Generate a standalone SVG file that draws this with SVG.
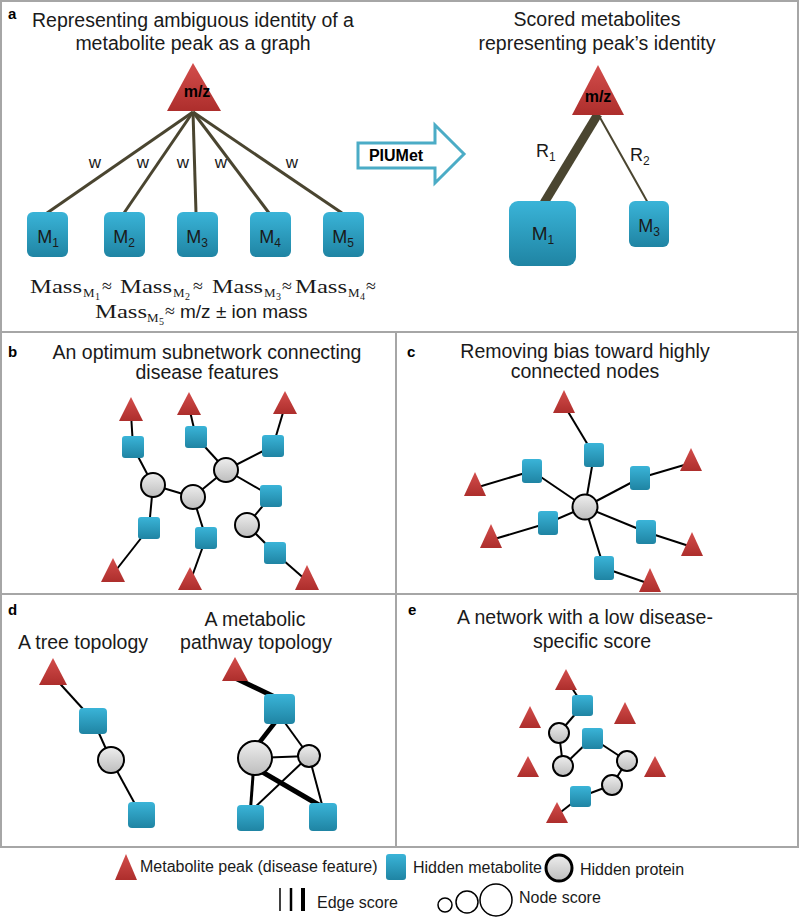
<svg xmlns="http://www.w3.org/2000/svg" width="800" height="918" viewBox="0 0 800 918">
<defs>
<linearGradient id="gTri" x1="0" y1="0" x2="0" y2="1"><stop offset="0" stop-color="#d34d4b"/><stop offset="1" stop-color="#ad2e2c"/></linearGradient>
<linearGradient id="gSq" x1="0" y1="0" x2="0" y2="1"><stop offset="0" stop-color="#3ab4d8"/><stop offset="1" stop-color="#1f84a3"/></linearGradient>
<linearGradient id="gCi" x1="0" y1="0" x2="0" y2="1"><stop offset="0" stop-color="#eeeeee"/><stop offset="1" stop-color="#bdbdbd"/></linearGradient>
</defs>
<style>
text{font-family:"Liberation Sans",Arial,sans-serif;fill:#1a1a1a}
.t{font-size:19.5px;text-anchor:middle}
.lab{font-size:15px;font-weight:bold;fill:#000}
.bold{font-weight:bold;fill:#000;font-size:16px;text-anchor:middle}
.tri{fill:url(#gTri)}
.sq{fill:url(#gSq)}
.ci{fill:url(#gCi);stroke:#000;stroke-width:2}
.e{stroke:#000;stroke-width:2;fill:none}
.ol{stroke:#4a4530;fill:none}
.mt{font-size:18px;text-anchor:middle}
.ser{font-family:"Liberation Serif","DejaVu Serif",serif;font-size:18px}
.s1{font-family:"Liberation Serif","DejaVu Serif",serif;font-size:13px}
.s2{font-family:"Liberation Serif","DejaVu Serif",serif;font-size:10px}
.border{stroke:#a6a6a6;stroke-width:2;fill:none}
.leg{font-size:16px}
.w{font-size:17px;text-anchor:middle}
</style>

<g id="frame">
<rect class="border" x="1" y="1" width="797" height="846"/>
<line class="border" x1="1" y1="332" x2="798" y2="332"/>
<line class="border" x1="1" y1="594" x2="798" y2="594"/>
<line class="border" x1="396" y1="332" x2="396" y2="847"/>
</g>

<g id="labels">
<text class="lab" x="8" y="19">a</text>
<text class="lab" x="8" y="357">b</text>
<text class="lab" x="407" y="357">c</text>
<text class="lab" x="8" y="615">d</text>
<text class="lab" x="408" y="615">e</text>
<text class="t" x="193" y="27">Representing ambiguous identity of a</text>
<text class="t" x="193" y="50">metabolite peak as a graph</text>
<text class="t" x="597" y="26">Scored metabolites</text>
<text class="t" x="597" y="50">representing peak’s identity</text>
<text class="t" x="207" y="359">An optimum subnetwork connecting</text>
<text class="t" x="207" y="379">disease features</text>
<text class="t" x="585" y="358">Removing bias toward highly</text>
<text class="t" x="585" y="378">connected nodes</text>
<text class="t" x="83" y="649">A tree topology</text>
<text class="t" x="255" y="626">A metabolic</text>
<text class="t" x="256" y="649">pathway topology</text>
<text class="t" x="585" y="624">A network with a low disease-</text>
<text class="t" x="592" y="648">specific score</text>
</g>

<!-- connectors -->
<g id="connectors">
<g class="ol" stroke-width="3">
<line x1="193" y1="112" x2="47" y2="213"/>
<line x1="193" y1="112" x2="124" y2="213"/>
<line x1="193" y1="112" x2="196" y2="213"/>
<line x1="193" y1="112" x2="269" y2="213"/>
<line x1="193" y1="112" x2="342" y2="213"/>
</g>
<line class="ol" stroke-width="9" x1="598" y1="114" x2="544" y2="203"/>
<line class="ol" stroke-width="2" x1="598" y1="114" x2="648" y2="203"/>
<!-- b -->
<g class="e">
<line x1="131" y1="413" x2="133" y2="447"/>
<line x1="133" y1="447" x2="153" y2="485"/>
<line x1="189" y1="407" x2="196" y2="437"/>
<line x1="196" y1="437" x2="226" y2="470"/>
<line x1="285" y1="406" x2="273" y2="446"/>
<line x1="273" y1="446" x2="226" y2="470"/>
<line x1="226" y1="470" x2="271" y2="496"/>
<line x1="226" y1="470" x2="193" y2="497"/>
<line x1="153" y1="485" x2="193" y2="497"/>
<line x1="153" y1="485" x2="149" y2="528"/>
<line x1="149" y1="528" x2="113" y2="574"/>
<line x1="193" y1="497" x2="206" y2="538"/>
<line x1="206" y1="538" x2="190" y2="582"/>
<line x1="271" y1="496" x2="247" y2="525"/>
<line x1="247" y1="525" x2="275" y2="553"/>
<line x1="275" y1="553" x2="307" y2="581"/>
</g>
<!-- c -->
<g class="e">
<line x1="585" y1="507" x2="594" y2="455"/>
<line x1="585" y1="507" x2="532" y2="471"/>
<line x1="585" y1="507" x2="640" y2="478"/>
<line x1="585" y1="507" x2="548" y2="523"/>
<line x1="585" y1="507" x2="646" y2="532"/>
<line x1="585" y1="507" x2="604" y2="568"/>
<line x1="594" y1="455" x2="564" y2="405"/>
<line x1="532" y1="471" x2="475" y2="488"/>
<line x1="640" y1="478" x2="691" y2="463"/>
<line x1="548" y1="523" x2="491" y2="540"/>
<line x1="646" y1="532" x2="692" y2="547"/>
<line x1="604" y1="568" x2="650" y2="584"/>
</g>
<!-- d -->
<g class="e">
<line x1="53" y1="676" x2="93" y2="720"/>
<line x1="93" y1="720" x2="111" y2="760"/>
<line x1="111" y1="760" x2="141" y2="815"/>
</g>
<g stroke="#000" fill="none">
<line stroke-width="5" x1="233" y1="677" x2="281" y2="700"/>
<line stroke-width="4.5" x1="280" y1="716" x2="255" y2="748"/>
<line stroke-width="2" x1="280" y1="716" x2="309" y2="756"/>
<line stroke-width="2" x1="255" y1="758" x2="309" y2="756"/>
<line stroke-width="3" x1="254" y1="762" x2="250" y2="816"/>
<line stroke-width="5" x1="252" y1="766" x2="324" y2="808"/>
<line stroke-width="2" x1="309" y1="756" x2="250" y2="812"/>
<line stroke-width="2" x1="309" y1="756" x2="324" y2="812"/>
</g>
<!-- e -->
<g class="e">
<line x1="570" y1="685" x2="583" y2="705"/>
<line x1="583" y1="705" x2="559" y2="733"/>
<line x1="559" y1="733" x2="563" y2="766"/>
<line x1="563" y1="766" x2="592" y2="738"/>
<line x1="592" y1="738" x2="627" y2="761"/>
<line x1="627" y1="761" x2="612" y2="785"/>
<line x1="612" y1="785" x2="580" y2="797"/>
<line x1="580" y1="797" x2="557" y2="815"/>
</g>
</g>

<!-- panel a nodes -->
<g id="a-mz">
<polygon class="tri" points="193,63 167,111 221,111"/>
<text class="bold" x="197" y="97">m/z</text>
</g>
<g id="a-w">
<text class="w" x="95" y="168">w</text>
<text class="w" x="143" y="168">w</text>
<text class="w" x="183" y="168">w</text>
<text class="w" x="221" y="168">w</text>
<text class="w" x="292" y="168">w</text>
</g>
<g id="a-M1"><rect class="sq" x="27" y="212" width="41" height="45" rx="6"/><text class="mt" x="48" y="243">M<tspan font-size="12" dy="4">1</tspan></text></g>
<g id="a-M2"><rect class="sq" x="104" y="212" width="41" height="45" rx="6"/><text class="mt" x="124" y="243">M<tspan font-size="12" dy="4">2</tspan></text></g>
<g id="a-M3"><rect class="sq" x="177" y="212" width="41" height="45" rx="6"/><text class="mt" x="197" y="243">M<tspan font-size="12" dy="4">3</tspan></text></g>
<g id="a-M4"><rect class="sq" x="250" y="212" width="41" height="45" rx="6"/><text class="mt" x="270" y="243">M<tspan font-size="12" dy="4">4</tspan></text></g>
<g id="a-M5"><rect class="sq" x="323" y="212" width="41" height="45" rx="6"/><text class="mt" x="343" y="243">M<tspan font-size="12" dy="4">5</tspan></text></g>

<g id="a-mass">
<text class="ser" x="30" y="293" textLength="52" lengthAdjust="spacingAndGlyphs">Mass</text>
<text class="s1" x="83" y="297">M</text><text class="s2" x="95" y="300">1</text>
<text class="ser" x="102" y="292">≈</text>
<text class="ser" x="120" y="293" textLength="52" lengthAdjust="spacingAndGlyphs">Mass</text>
<text class="s1" x="173" y="297">M</text><text class="s2" x="185" y="300">2</text>
<text class="ser" x="193" y="292">≈</text>
<text class="ser" x="212" y="293" textLength="51" lengthAdjust="spacingAndGlyphs">Mass</text>
<text class="s1" x="264" y="297">M</text><text class="s2" x="276" y="300">3</text>
<text class="ser" x="282" y="292">≈</text>
<text class="ser" x="295" y="293" textLength="52" lengthAdjust="spacingAndGlyphs">Mass</text>
<text class="s1" x="348" y="297">M</text><text class="s2" x="360" y="300">4</text>
<text class="ser" x="366" y="292">≈</text>
<text class="ser" x="95" y="318" textLength="52" lengthAdjust="spacingAndGlyphs">Mass</text>
<text class="s1" x="147" y="322">M</text><text class="s2" x="159" y="325">5</text>
<text class="ser" x="165" y="317">≈</text>
<text x="180" y="318" font-size="19">m/z ± ion mass</text>
</g>

<g id="a-arrow">
<path d="M358,143 H435 V125 L464,154 L435,183 V168 H358 Z" fill="#fff" stroke="#4bacc6" stroke-width="3" stroke-linejoin="miter"/>
<text class="bold" x="396" y="161">PIUMet</text>
</g>

<g id="a2-mz">
<polygon class="tri" points="598,65 572,115 624,115"/>
<text class="bold" x="598" y="102">m/z</text>
</g>
<g id="a2-R" font-size="18">
<text x="536" y="157">R<tspan font-size="12" dy="4">1</tspan></text>
<text x="630" y="161">R<tspan font-size="12" dy="4">2</tspan></text>
</g>
<g id="a2-M1"><rect class="sq" x="509" y="201" width="67" height="65" rx="9"/><text class="mt" x="543" y="240" style="font-size:19px">M<tspan font-size="12" dy="4">1</tspan></text></g>
<g id="a2-M3"><rect class="sq" x="629" y="201" width="40" height="46" rx="6"/><text class="mt" x="649" y="232">M<tspan font-size="12" dy="4">3</tspan></text></g>

<!-- panel b -->
<g id="b-nodes">
<polygon class="tri" points="131,397 119,421 143,421"/>
<polygon class="tri" points="189,392 177,415 201,415"/>
<polygon class="tri" points="285,391 273,414 297,414"/>
<polygon class="tri" points="113,558 101,582 125,582"/>
<polygon class="tri" points="190,567 178,590 202,590"/>
<polygon class="tri" points="307,565 295,590 319,590"/>
<rect class="sq" x="122" y="436" width="22" height="22" rx="3"/>
<rect class="sq" x="185" y="426" width="22" height="22" rx="3"/>
<rect class="sq" x="262" y="435" width="22" height="22" rx="3"/>
<rect class="sq" x="260" y="485" width="22" height="22" rx="3"/>
<rect class="sq" x="138" y="517" width="22" height="22" rx="3"/>
<rect class="sq" x="195" y="527" width="22" height="22" rx="3"/>
<rect class="sq" x="264" y="542" width="22" height="22" rx="3"/>
<circle class="ci" cx="153" cy="485" r="12"/>
<circle class="ci" cx="193" cy="497" r="12"/>
<circle class="ci" cx="226" cy="470" r="12"/>
<circle class="ci" cx="247" cy="525" r="12"/>
</g>

<!-- panel c -->
<g id="c-nodes">
<polygon class="tri" points="564,390 553,413 575,413"/>
<polygon class="tri" points="691,448 680,471 702,471"/>
<polygon class="tri" points="475,472 464,496 486,496"/>
<polygon class="tri" points="491,524 480,548 502,548"/>
<polygon class="tri" points="692,532 681,556 703,556"/>
<polygon class="tri" points="650,568 639,592 661,592"/>
<rect class="sq" x="584" y="443" width="20" height="24" rx="3"/>
<rect class="sq" x="522" y="459" width="20" height="24" rx="3"/>
<rect class="sq" x="630" y="466" width="20" height="24" rx="3"/>
<rect class="sq" x="538" y="511" width="20" height="24" rx="3"/>
<rect class="sq" x="636" y="520" width="20" height="24" rx="3"/>
<rect class="sq" x="594" y="556" width="20" height="24" rx="3"/>
<circle class="ci" cx="585" cy="507" r="12.5"/>
</g>

<!-- panel d -->
<g id="d-tree">
<polygon class="tri" points="53,658 39,685 67,685"/>
<rect class="sq" x="79" y="708" width="28" height="26" rx="4"/>
<circle class="ci" cx="111" cy="760" r="13"/>
<rect class="sq" x="128" y="802" width="27" height="26" rx="4"/>
</g>
<g id="d-pathway">
<polygon class="tri" points="235,657 222,681 248,681"/>
<rect class="sq" x="264" y="694" width="31" height="30" rx="4"/>
<circle class="ci" cx="255" cy="758" r="17"/>
<circle class="ci" cx="309" cy="756" r="11"/>
<rect class="sq" x="237" y="805" width="27" height="26" rx="4"/>
<rect class="sq" x="309" y="803" width="28" height="28" rx="4"/>
</g>

<!-- panel e -->
<g id="e-nodes">
<polygon class="tri" points="566,669 555,690 577,690"/>
<polygon class="tri" points="530,706 519,728 541,728"/>
<polygon class="tri" points="625,702 614,724 636,724"/>
<polygon class="tri" points="528,756 517,777 539,777"/>
<polygon class="tri" points="655,756 644,777 666,777"/>
<polygon class="tri" points="557,802 546,823 568,823"/>
<rect class="sq" x="572" y="695" width="21" height="21" rx="3"/>
<rect class="sq" x="582" y="728" width="21" height="21" rx="3"/>
<rect class="sq" x="570" y="786" width="21" height="21" rx="3"/>
<circle class="ci" cx="559" cy="733" r="10"/>
<circle class="ci" cx="563" cy="766" r="10"/>
<circle class="ci" cx="627" cy="761" r="10"/>
<circle class="ci" cx="612" cy="785" r="10"/>
</g>

<!-- legend -->
<g id="legend">
<polygon class="tri" points="126,854 115,880 137,880"/>
<text class="leg" x="140" y="872">Metabolite peak (disease feature)</text>
<rect class="sq" x="386" y="854" width="20" height="26" rx="3"/>
<text class="leg" x="413" y="873">Hidden metabolite</text>
<circle cx="559" cy="868" r="13" fill="url(#gCi)" stroke="#000" stroke-width="3"/>
<text class="leg" x="580" y="875">Hidden protein</text>
<line x1="280" y1="888" x2="280" y2="911" stroke="#000" stroke-width="1.5"/>
<line x1="291" y1="888" x2="291" y2="911" stroke="#000" stroke-width="2.5"/>
<line x1="303" y1="888" x2="303" y2="911" stroke="#000" stroke-width="4"/>
<text class="leg" x="317" y="908">Edge score</text>
<circle cx="445" cy="905" r="7" fill="#fff" stroke="#000" stroke-width="1.5"/>
<circle cx="467" cy="902" r="11" fill="#fff" stroke="#000" stroke-width="1.5"/>
<circle cx="496" cy="900" r="16" fill="#fff" stroke="#000" stroke-width="1.5"/>
<text class="leg" x="519" y="903">Node score</text>
</g>
</svg>
